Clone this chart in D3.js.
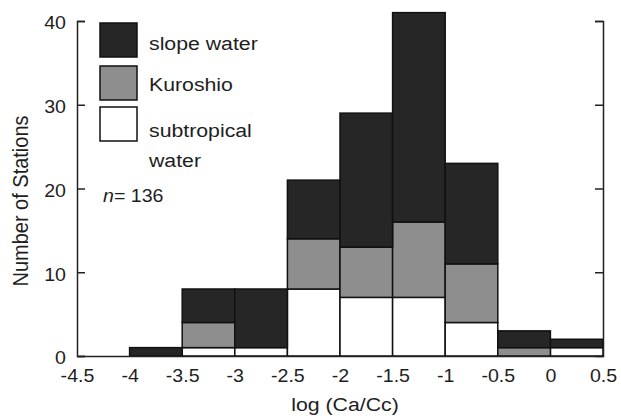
<!DOCTYPE html>
<html>
<head>
<meta charset="utf-8">
<script src="https://cdn.jsdelivr.net/npm/d3@7"></script>
<style>
  html, body { margin: 0; padding: 0; background: #fff; }
  svg { display: block; }
  text { font-family: "Liberation Sans", Arial, Helvetica, sans-serif; fill: #1e1e1e; }
</style>
</head>
<body>
<script>
// Histogram bins of log(Ca/Cc): lower edges, width 0.5
const binStarts = [-4, -3.5, -3, -2.5, -2, -1.5, -1, -0.5, 0];
const subtropical = [0, 1, 1, 8, 7, 7, 4, 0, 1];
const kuroshio    = [0, 3, 0, 6, 6, 9, 7, 1, 0];
const slopeWater  = [1, 4, 7, 7, 16, 25, 12, 2, 1];
const binWidth = 0.5;

const seriesKeys   = ["subtropical", "kuroshio", "slope"];
const seriesNames  = { slope: "slope water", kuroshio: "Kuroshio", subtropical: ["subtropical", "water"] };
const seriesColors = { slope: "#262626", kuroshio: "#8e8e8e", subtropical: "#ffffff" };
const legendOrder  = ["slope", "kuroshio", "subtropical"];

const xTicks = [-4.5, -4, -3.5, -3, -2.5, -2, -1.5, -1, -0.5, 0, 0.5];
const yTicks = [0, 10, 20, 30, 40];
const totalN = 136;

const W = 621, H = 416;
const stretch = 1.12; // glyphs are drawn slightly wide

const x = d3.scaleLinear().domain([-4.5, 0.5]).range([77, 603]);
const y = d3.scaleLinear().domain([0, 40]).range([356, 21]);

const svg = d3.select("body").append("svg").attr("width", W).attr("height", H);

const rows = binStarts.map((b, i) => ({
  x0: b, subtropical: subtropical[i], kuroshio: kuroshio[i], slope: slopeWater[i]
}));
const stacked = d3.stack().keys(seriesKeys)(rows);

// stacked bars
const layers = svg.append("g").selectAll("g").data(stacked).join("g")
  .attr("fill", d => seriesColors[d.key]);
layers.selectAll("rect")
  .data(d => d.filter(s => s[1] - s[0] > 0))
  .join("rect")
  .attr("x", s => x(s.data.x0))
  .attr("width", s => x(s.data.x0 + binWidth) - x(s.data.x0))
  .attr("y", s => y(s[1]))
  .attr("height", s => y(s[0]) - y(s[1]))
  .attr("stroke", "#111")
  .attr("stroke-width", 1.5);

const axisStyle = g => {
  g.select(".domain").attr("stroke", "#222").attr("stroke-width", 1.5);
  g.selectAll(".tick line").attr("stroke", "#222").attr("stroke-width", 1.5);
  g.selectAll(".tick text").style("font-size", "17.5px").attr("fill", "#1e1e1e");
};

// left axis with inward ticks
const yAxisL = svg.append("g").attr("transform", `translate(${x(-4.5)},0)`)
  .call(d3.axisLeft(y).tickValues(yTicks).tickSizeInner(-8).tickSizeOuter(-8)
    .tickPadding(0).tickFormat(d => String(d)))
  .call(axisStyle);
yAxisL.selectAll(".tick text")
  .attr("x", null).attr("dy", "0.45em")
  .attr("transform", `translate(-11,0) scale(${stretch},1)`);

// right axis, ticks only
svg.append("g").attr("transform", `translate(${x(0.5)},0)`)
  .call(d3.axisRight(y).tickValues(yTicks.filter(v => v > 0)).tickSizeInner(-8).tickSizeOuter(-8)
    .tickFormat(""))
  .call(axisStyle);

// bottom axis, labels only
const xAxis = svg.append("g").attr("transform", `translate(0,${y(0)})`)
  .call(d3.axisBottom(x).tickValues(xTicks).tickSize(0).tickPadding(0)
    .tickFormat(d => String(d)))
  .call(axisStyle);
xAxis.selectAll(".tick text")
  .attr("y", null).attr("dy", null)
  .attr("transform", `translate(0,25.5) scale(${stretch},1)`);

// axis titles
svg.append("text")
  .attr("transform", `translate(345,410.5) scale(${stretch},1)`)
  .attr("text-anchor", "middle")
  .style("font-size", "19px")
  .text("log (Ca/Cc)");

svg.append("text")
  .attr("transform", `translate(28,201) rotate(-90) scale(1,${stretch})`)
  .attr("text-anchor", "middle")
  .style("font-size", "20px")
  .text("Number of Stations");

// legend
const legend = svg.append("g");
const swatchTops = [23, 66, 107];
legendOrder.forEach((k, i) => {
  legend.append("rect")
    .attr("x", 100).attr("y", swatchTops[i])
    .attr("width", 37).attr("height", 34)
    .attr("fill", seriesColors[k])
    .attr("stroke", "#111").attr("stroke-width", 1.5);
});
const legendLines = [
  { t: seriesNames.slope, yb: 50 },
  { t: seriesNames.kuroshio, yb: 91 },
  { t: seriesNames.subtropical[0], yb: 137 },
  { t: seriesNames.subtropical[1], yb: 167 }
];
legendLines.forEach(l => {
  legend.append("text")
    .attr("transform", `translate(149,${l.yb}) scale(${stretch},1)`)
    .style("font-size", "19px")
    .text(l.t);
});

// sample size
const nText = svg.append("text")
  .attr("transform", `translate(103,202) scale(${stretch},1)`)
  .style("font-size", "17.5px");
nText.append("tspan").style("font-style", "italic").text("n");
nText.append("tspan").text("= " + totalN);
</script>
</body>
</html>
